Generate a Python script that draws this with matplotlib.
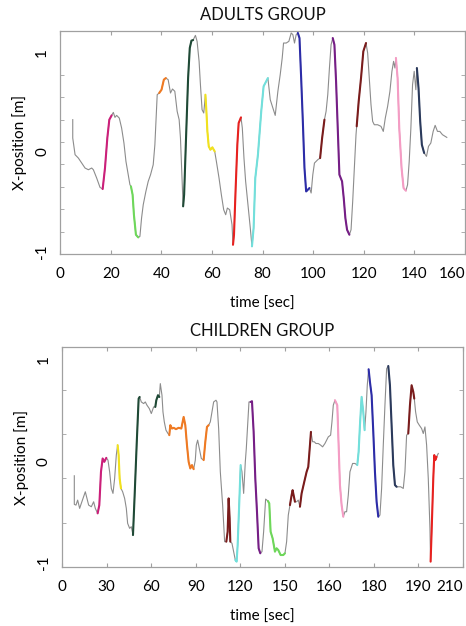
import numpy as np
import matplotlib
matplotlib.use('Agg')
from matplotlib import pyplot as plt
from matplotlib.ticker import MultipleLocator

plt.rcParams['font.family'] = ['Lato', 'DejaVu Sans']

# ---- adults group: time [sec], x-position [m]
adult_t = [4.99, 4.99, 5.91, 7.22, 8.54, 9.85, 11.17, 12.48, 13.14, 14.45, 15.76,
           16.81, 17.73, 18.65, 19.44, 20.36, 21.02, 21.67, 22.33, 23.38, 24.30,
           25.22, 26.01, 26.93, 27.59, 27.98, 28.64, 29.16, 29.95, 30.87, 31.53,
           32.18, 32.84, 33.89, 34.81, 35.73, 36.78, 37.44, 38.36, 39.15, 40.07,
           40.99, 41.77, 42.69, 43.61, 44.40, 45.32, 46.24, 47.03, 47.55, 48.08,
           48.60, 49.00, 49.66, 50.57, 51.23, 51.89, 52.55, 53.46, 54.12, 54.91,
           55.44, 56.09, 56.75, 57.41, 57.80, 58.19, 58.72, 59.38, 60.16, 61.08,
           61.74, 62.79, 63.71, 64.63, 65.42, 66.08, 67.00, 67.92, 68.31, 68.70,
           69.36, 70.02, 70.54, 71.46, 71.99, 72.64, 73.30, 74.22, 75.14, 75.80,
           76.45, 77.11, 78.16, 79.47, 80.40, 82.10, 83.02, 84.07, 84.99, 86.04,
           86.96, 87.75, 88.28, 89.33, 90.38, 91.30, 91.96, 92.61, 93.27, 93.93,
           94.58, 95.24, 95.90, 96.55, 97.21, 97.87, 98.52, 99.18, 99.84, 100.49,
           101.81, 102.73, 103.52, 104.44, 105.09, 105.75, 106.41, 107.06, 107.72,
           108.38, 109.03, 109.69, 110.35, 111.40, 112.06, 112.71, 113.37, 114.29,
           114.95, 115.60, 116.26, 116.91, 117.18, 117.97, 118.89, 119.80, 120.86,
           121.51, 122.17, 122.83, 123.48, 124.14, 125.45, 126.77, 127.69, 128.48,
           129.40, 130.31, 131.10, 131.76, 132.29, 132.68, 133.34, 134.00, 134.91,
           135.70, 136.62, 137.28, 137.93, 138.59, 139.25, 139.90, 140.56, 140.96,
           141.61, 142.27, 142.93, 143.84, 144.76, 145.55, 146.47, 147.39, 148.18,
           149.10, 150.02, 151.07, 152.78]
adult_x = [0.325, 0.140, -0.027, -0.061, -0.111, -0.161, -0.178, -0.161, -0.178, -0.262, -0.355,
           -0.372, -0.161, 0.140, 0.325, 0.368, 0.398, 0.348, 0.368, 0.341, 0.241,
           0.090, -0.094, -0.228, -0.329, -0.345, -0.429, -0.630, -0.831, -0.858, -0.848,
           -0.664, -0.530, -0.396, -0.295, -0.228, -0.128, 0.073, 0.576, 0.593, 0.626,
           0.727, 0.743, 0.727, 0.593, 0.633, 0.610, 0.409, 0.325, 0.140, -0.195,
           -0.546, -0.429, 0.073, 0.743, 1.045, 1.119, 1.125, 1.172, 1.112, 0.911,
           0.677, 0.425, 0.392, 0.576, 0.409, 0.207, 0.057, 0.023, 0.047, 0.006,
           -0.094, -0.262, -0.429, -0.580, -0.630, -0.563, -0.580, -0.731, -0.932, -0.831,
           -0.362, 0.073, 0.291, 0.348, 0.241, -0.061, -0.295, -0.530, -0.764, -0.948,
           -0.764, -0.262, -0.027, 0.409, 0.660, 0.743, 0.526, 0.442, 0.368, 0.610,
           0.777, 0.944, 1.095, 1.095, 1.112, 1.196, 1.179, 1.095, 1.179, 1.196,
           1.145, 0.743, 0.308, -0.161, -0.396, -0.379, -0.362, -0.412, -0.228, -0.111,
           -0.077, -0.061, 0.140, 0.325, 0.409, 0.576, 0.844, 1.078, 1.145,
           1.078, 0.710, 0.241, -0.228, -0.295, -0.463, -0.664, -0.781, -0.831,
           -0.781, -0.496, -0.161, 0.174, 0.258, 0.509, 0.743, 1.011, 1.095,
           0.995, 0.743, 0.476, 0.308, 0.274, 0.274, 0.258, 0.207, 0.341,
           0.459, 0.610, 0.811, 0.911, 0.844, 0.945, 0.743, 0.241, -0.161,
           -0.362, -0.389, -0.329, -0.094, 0.241, 0.677, 0.811, 0.626, 0.844,
           0.643, 0.308, 0.073, -0.010, -0.044, 0.057, 0.090, 0.207, 0.268,
           0.207, 0.207, 0.174, 0.147]
# highlighted movements: (start, end, colour)
adult_segments = [
    (16.81, 20.36, '#cc1f7a'),
    (27.98, 30.87, '#6ed85a'),
    (39.15, 41.77, '#f07a22'),
    (48.60, 52.55, '#1f4a36'),
    (57.41, 61.08, '#f2e21c'),
    (68.31, 71.46, '#e8211f'),
    (75.80, 82.10, '#72e0dc'),
    (93.93, 98.52, '#2c2ca8'),
    (102.73, 104.44, '#7a1c1c'),
    (107.72, 114.29, '#761e86'),
    (117.18, 120.86, '#7a1c1c'),
    (132.68, 136.62, '#f59cc4'),
    (140.96, 143.84, '#2b3a5c'),
]

# ---- children group
child_t = [8.30, 8.30, 9.43, 10.55, 11.90, 13.02, 14.59, 15.71, 16.83, 17.96, 19.75,
           21.32, 22.44, 24.01, 25.14, 26.26, 27.38, 28.50, 29.85, 30.97, 32.09,
           33.22, 34.34, 35.46, 36.58, 37.48, 38.15, 38.83, 39.73, 40.85, 42.19,
           43.32, 44.21, 45.56, 46.68, 47.81, 48.93, 50.27, 51.62, 52.29, 53.42,
           54.99, 56.11, 57.23, 58.80, 60.15, 61.72, 62.84, 63.52, 64.64, 65.54,
           66.21, 67.33, 68.00, 68.90, 70.02, 71.37, 72.27, 72.94, 74.06, 75.19,
           76.76, 78.55, 80.35, 81.92, 83.04, 84.16, 85.29, 86.41, 87.53, 88.65,
           89.77, 90.45, 91.35, 92.47, 93.81, 95.39, 96.51, 97.63, 98.75, 99.87,
           101.00, 102.12, 103.69, 104.36, 105.49, 106.61, 108.18, 109.52, 110.65,
           111.55, 112.22, 112.89, 113.34, 114.46, 115.58, 116.71, 117.60, 118.28,
           119.40, 120.30, 121.20, 122.32, 123.44, 124.11, 125.01, 125.91, 127.03,
           127.93, 129.05, 130.17, 131.30, 132.42, 133.54, 134.66, 135.78, 137.12,
           138.69, 139.58, 140.48, 141.83, 143.40, 144.52, 145.64, 147.21, 149.01,
           150.13, 151.26, 152.38, 153.50, 154.62, 155.30, 156.19, 156.87, 157.99,
           159.11, 160.23, 161.35, 163.15, 164.72, 165.84, 166.97, 167.64, 168.76,
           169.88, 171.01, 172.58, 174.15, 175.49, 177.06, 178.19, 179.31, 180.88,
           181.78, 182.68, 183.80, 185.37, 186.27, 187.17, 188.29, 189.41, 190.53,
           191.65, 192.78, 193.90, 195.69, 197.26, 198.84, 199.73, 200.63, 201.75,
           202.88, 203.77, 204.67, 205.57, 206.47, 207.36, 208.49, 209.61, 210.73,
           211.85, 212.98, 214.10, 215.22, 216.34, 217.46, 218.59, 219.71, 220.83,
           221.95, 223.07, 224.20, 225.32, 226.44, 228.01, 229.81, 230.93, 232.05,
           233.17, 234.30, 235.42, 236.54, 237.21, 238.11, 239.23, 240.58, 242.15,
           243.27, 244.40, 245.52, 246.64, 247.76, 248.21, 248.89, 250.01, 250.68,
           251.36, 252.25, 253.37]
child_x = [-0.144, -0.425, -0.432, -0.383, -0.464, -0.415, -0.350, -0.301, -0.366, -0.432, -0.448,
           -0.399, -0.464, -0.513, -0.432, -0.105, 0.026, -0.007, 0.032, 0.010, -0.105,
           -0.268, -0.317, -0.170, 0.059, 0.157, 0.059, -0.170, -0.268, -0.301, -0.366,
           -0.464, -0.611, -0.660, -0.644, -0.726, -0.334, 0.157, 0.614, 0.630, 0.581,
           0.565, 0.581, 0.549, 0.516, 0.467, 0.532, 0.532, 0.598, 0.647, 0.630,
           0.761, 0.647, 0.483, 0.385, 0.304, 0.271, 0.255, 0.353, 0.320, 0.327,
           0.314, 0.327, 0.320, 0.434, 0.353, 0.157, -0.007, -0.072, -0.039, -0.079,
           0.010, 0.157, 0.206, 0.124, 0.026, 0.010, 0.189, 0.336, 0.353, 0.385,
           0.483, 0.581, 0.598, 0.581, 0.320, -0.105, -0.432, -0.791, -0.791,
           -0.693, -0.366, -0.562, -0.791, -0.807, -0.889, -0.971, -0.987, -0.824,
           -0.399, -0.039, -0.105, -0.317, -0.007, 0.124, 0.353, 0.581, 0.581,
           0.588, 0.287, -0.170, -0.497, -0.856, -0.905, -0.889, -0.693, -0.373,
           -0.392, -0.415, -0.693, -0.758, -0.889, -0.856, -0.873, -0.922, -0.922,
           -0.905, -0.791, -0.530, -0.432, -0.334, -0.285, -0.350, -0.399, -0.399,
           -0.383, -0.448, -0.317, -0.203, -0.105, -0.056, 0.157, 0.287, 0.190,
           0.190, 0.173, 0.173, 0.157, 0.140, 0.173, 0.206, 0.238, 0.255,
           0.385, 0.549, 0.598, 0.549, 0.157, -0.235, -0.432, -0.546, -0.497,
           -0.497, -0.334, -0.105, -0.023, -0.023, -0.039, 0.091, 0.353, 0.631,
           0.483, 0.304, 0.483, 0.745, 0.902, 0.778, 0.647, 0.287, -0.105,
           -0.399, -0.546, -0.530, -0.268, 0.157, 0.549, 0.908, 0.934, 0.745,
           0.353, -0.039, -0.235, -0.252, -0.252, -0.252, -0.268, -0.105, 0.255,
           0.271, 0.549, 0.745, 0.680, 0.614, 0.483, 0.385, 0.353, 0.320,
           0.271, 0.336, 0.157, -0.170, -0.660, -0.987, -0.693, -0.170, 0.059,
           0.010, 0.042, 0.075]
child_segments = [
    (24.01, 29.85, '#cc1f7a'),
    (37.48, 39.73, '#f2e21c'),
    (47.81, 52.29, '#1f4a36'),
    (62.84, 65.54, '#1f4a36'),
    (72.27, 88.65, '#f07a22'),
    (95.39, 98.75, '#f07a22'),
    (110.65, 113.34, '#7a1c1c'),
    (116.71, 120.30, '#72e0dc'),
    (127.03, 133.54, '#761e86'),
    (138.69, 150.13, '#6ed85a'),
    (153.50, 156.87, '#7a1c1c'),
    (160.23, 167.64, '#7a1c1c'),
    (183.80, 189.41, '#f59cc4'),
    (198.84, 203.77, '#72e0dc'),
    (206.47, 212.98, '#2c2ca8'),
    (219.71, 225.32, '#2b3a5c'),
    (233.17, 237.21, '#7a1c1c'),
    (248.21, 252.25, '#e8211f'),
]

adult_xticks = [0, 20, 40, 60, 80, 100, 120, 140, 160]
adult_xticklabels = ['0', '20', '40', '60', '80', '100', '120', '140', '160']
child_xticks = [0, 30, 60, 90, 120, 150, 180, 210, 240, 270]
child_xticklabels = ['0', '30', '60', '90', '120', '150', '160', '180', '190', '210']

SPINE = '#a0a0a0'


def draw_panel(ax, t, x, segments, title, xlim, ylim, xticks, xticklabels,
               minor_step, minor_offset):
    t = np.asarray(t)
    x = np.asarray(x)
    ax.plot(t, x, color='#8c8c8c', lw=0.8, zorder=2)
    for start, end, color in segments:
        m = (t >= start - 1e-6) & (t <= end + 1e-6)
        ax.plot(t[m], x[m], color=color, lw=1.5, zorder=3,
                solid_capstyle='round')

    ax.set_xlim(*xlim)
    ax.set_ylim(*ylim)
    ax.set_xticks(xticks)
    labels = ax.set_xticklabels(xticklabels)
    # last label sits inside the frame edge
    labels[-1].set_horizontalalignment('right')
    labels[-1].set_x(xticks[-1])
    ax.set_yticks([-1, 0, 1])
    ax.set_yticklabels(['-1', '0', '1'], rotation=90, va='center')
    ax.yaxis.set_minor_locator(MultipleLocator(minor_step, offset=minor_offset))
    ax.tick_params(axis='y', which='major', length=0, labelsize=11, pad=8)
    ax.tick_params(axis='y', which='minor', direction='in', length=3,
                   color=SPINE, left=True, right=True)
    ax.tick_params(axis='x', direction='in', length=3, color=SPINE,
                   top=True, bottom=True, labelsize=11, pad=9)
    for sp in ax.spines.values():
        sp.set_color(SPINE)
        sp.set_linewidth(0.9)

    ax.set_title(title, fontsize=12, pad=8, color='#111111')
    ax.set_xlabel('time [sec]', fontsize=11, labelpad=12)
    ax.set_ylabel('X-position [m]', fontsize=11, labelpad=6)


fig = plt.figure(figsize=(4.66, 6.26), dpi=100)
ax1 = fig.add_axes([0.129, 0.5942, 0.869, 0.3563])
ax2 = fig.add_axes([0.133, 0.0942, 0.8605, 0.3514])

draw_panel(ax1, adult_t, adult_x, adult_segments, 'ADULTS GROUP',
           (0, 160), (-1.025, 1.216), adult_xticks, adult_xticklabels,
           0.225, 0.1)
draw_panel(ax2, child_t, child_x, child_segments, 'CHILDREN GROUP',
           (0, 270), (-1.04, 1.12), child_xticks, child_xticklabels,
           0.435, 0.265)

fig.savefig('out.png', dpi=100)
